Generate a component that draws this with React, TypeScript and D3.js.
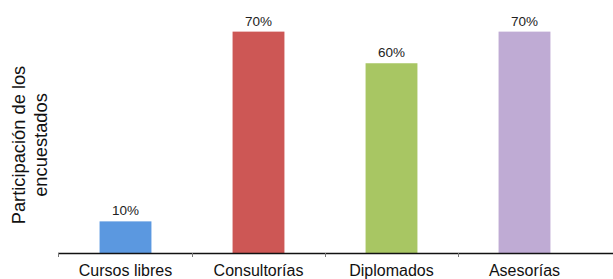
import React from "react";
import * as d3 from "d3";

const categories = ["Cursos libres", "Consultorías", "Diplomados", "Asesorías"];
const values = [10, 70, 60, 70];
const colors = ["#5b98e0", "#cd5755", "#a8c663", "#bfabd4"];
const yTitle = ["Participación de los", "encuestados"];

const App = () => {
    const width = 613;
    const height = 279;
    const margin = { top: 0, right: 22, bottom: 26, left: 59 };
    const font = "'Liberation Sans', Arial, Helvetica, sans-serif";

    const x = d3.scaleBand()
        .domain(categories)
        .range([margin.left, width - margin.right])
        .paddingInner(0.61)
        .paddingOuter(0.305);

    const y = d3.scaleLinear()
        .domain([0, 80])
        .range([height - margin.bottom, margin.top]);

    const step = x.step();
    const base = y(0);
    const bounds = categories.slice(1).map(c => x(c) - step * 0.305);

    return (
        <svg width={width} height={height}
            style={{ position: "absolute", left: 0, top: 0, background: "#fff" }}>
            {categories.map((c, i) => (
                <g key={c}>
                    <rect x={x(c)} y={y(values[i])} width={x.bandwidth()}
                        height={base - y(values[i])} fill={colors[i]} />
                    <text x={x(c) + x.bandwidth() / 2} y={y(values[i]) - 6}
                        textAnchor="middle" fontFamily={font} fontSize={13.5} fill="#222">
                        {values[i]}%
                    </text>
                    <text x={x(c) + x.bandwidth() / 2} y={base + 23}
                        textAnchor="middle" fontFamily={font} fontSize={16} fill="#111">
                        {c}
                    </text>
                </g>
            ))}
            <line x1={margin.left - 1} x2={width} y1={base + 0.5} y2={base + 0.5}
                stroke="#111" strokeWidth={1.3} />
            {[margin.left - 1, ...bounds].map((bx, i) => (
                <line key={i} x1={Math.round(bx) + 0.5} x2={Math.round(bx) + 0.5}
                    y1={base} y2={base + 4} stroke="#777" strokeWidth={1} />
            ))}
            {yTitle.map((t, i) => (
                <text key={t} transform={`translate(${25 + i * 22},145) rotate(-90)`}
                    textAnchor="middle" fontFamily={font} fontSize={18.3} fill="#111">
                    {t}
                </text>
            ))}
        </svg>
    );
};

export default App;
